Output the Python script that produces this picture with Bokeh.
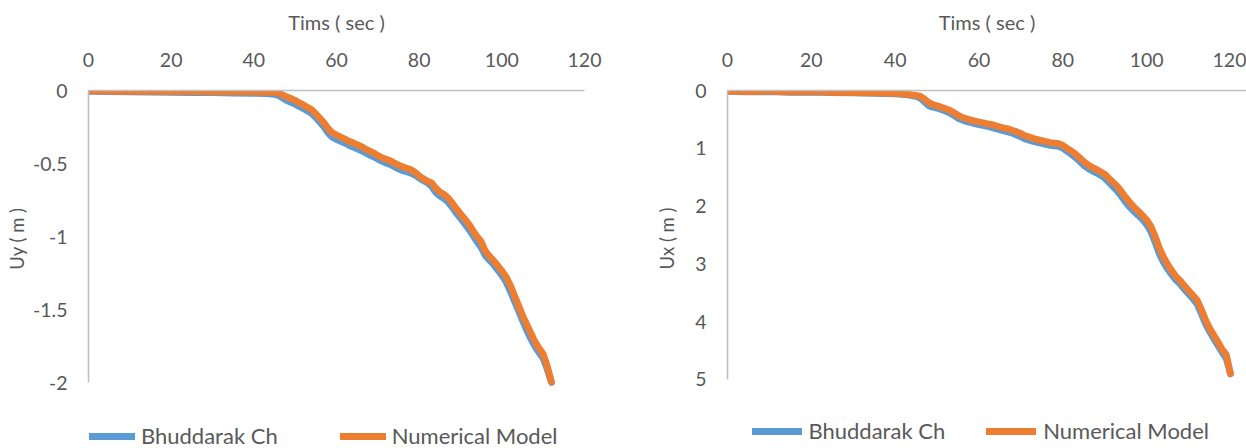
from bokeh.plotting import figure
from bokeh.models import Range1d, FixedTicker, Legend, LegendItem, Title
from bokeh.layouts import row
from bokeh.embed import file_html
from bokeh.resources import INLINE

# ---------------- data ----------------
x_ticks = [0, 20, 40, 60, 80, 100, 120]
uy_ticks = [0, -0.5, -1, -1.5, -2]
uy_tick_labels = ["0", "-0.5", "-1", "-1.5", "-2"]
ux_ticks = [0, 1, 2, 3, 4, 5]
ux_tick_labels = ["0", "1", "2", "3", "4", "5"]
series_names = ["Bhuddarak Ch", "Numerical Model"]

time_uy = [0, 5, 10, 15, 20, 25, 30, 35, 40, 43, 45, 46, 47, 48, 49, 50, 51, 52, 53, 54,
           55, 56, 57, 58, 59, 60, 61, 62, 63, 64, 65, 66, 67, 68, 69, 70, 71, 72, 73, 74,
           75, 76, 77, 78, 79, 80, 81, 82, 83, 84, 85, 86, 87, 88, 89, 90, 91, 92, 93, 94,
           95, 96, 97, 98, 99, 100, 101, 102, 103, 104, 105, 106, 107, 108, 109, 110, 111, 112]
uy_bhuddarak = [-0.006, -0.008, -0.009, -0.011, -0.012, -0.014, -0.015, -0.017, -0.019, -0.021,
                -0.026, -0.035, -0.052, -0.070, -0.082, -0.094, -0.110, -0.124, -0.140, -0.158,
                -0.185, -0.218, -0.250, -0.292, -0.320, -0.335, -0.348, -0.360, -0.375, -0.387,
                -0.400, -0.412, -0.427, -0.442, -0.454, -0.470, -0.484, -0.497, -0.507, -0.522,
                -0.537, -0.549, -0.557, -0.566, -0.579, -0.600, -0.616, -0.632, -0.657, -0.698,
                -0.722, -0.740, -0.765, -0.800, -0.840, -0.875, -0.912, -0.950, -0.992, -1.035,
                -1.075, -1.130, -1.162, -1.192, -1.228, -1.265, -1.310, -1.370, -1.440, -1.505,
                -1.575, -1.640, -1.700, -1.752, -1.795, -1.835, -1.910, -2.000]
uy_numerical = [-0.003, -0.004, -0.005, -0.006, -0.007, -0.008, -0.009, -0.010, -0.011, -0.012,
                -0.013, -0.018, -0.030, -0.045, -0.055, -0.068, -0.085, -0.098, -0.115, -0.132,
                -0.160, -0.190, -0.222, -0.262, -0.290, -0.305, -0.318, -0.332, -0.348, -0.358,
                -0.370, -0.384, -0.400, -0.415, -0.427, -0.446, -0.459, -0.471, -0.481, -0.496,
                -0.511, -0.523, -0.532, -0.542, -0.560, -0.585, -0.605, -0.620, -0.632, -0.668,
                -0.695, -0.712, -0.735, -0.770, -0.810, -0.845, -0.880, -0.915, -0.960, -1.000,
                -1.035, -1.100, -1.135, -1.165, -1.200, -1.235, -1.275, -1.330, -1.400, -1.470,
                -1.540, -1.600, -1.660, -1.720, -1.765, -1.805, -1.890, -1.995]

time_ux = [0, 5, 10, 15, 20, 25, 30, 35, 40, 43, 45, 46, 47, 48, 49, 50, 51, 52, 53, 54,
           55, 56, 57, 58, 59, 60, 61, 62, 63, 64, 65, 66, 67, 68, 69, 70, 71, 72, 73, 74,
           75, 76, 77, 78, 79, 80, 81, 82, 83, 84, 85, 86, 87, 88, 89, 90, 91, 92, 93, 94,
           95, 96, 97, 98, 99, 100, 101, 102, 103, 104, 105, 106, 107, 108, 109, 110, 111, 112,
           113, 114, 115, 116, 117, 118, 119, 120]
ux_bhuddarak = [0.015, 0.025, 0.020, 0.030, 0.028, 0.035, 0.040, 0.048, 0.060, 0.075,
                0.100, 0.130, 0.200, 0.265, 0.290, 0.305, 0.330, 0.355, 0.385, 0.430,
                0.480, 0.510, 0.535, 0.555, 0.575, 0.590, 0.605, 0.620, 0.640, 0.660,
                0.680, 0.700, 0.718, 0.742, 0.770, 0.800, 0.838, 0.860, 0.882, 0.900,
                0.918, 0.935, 0.950, 0.958, 0.965, 0.995, 1.050, 1.100, 1.160, 1.225,
                1.295, 1.345, 1.390, 1.425, 1.465, 1.515, 1.590, 1.665, 1.740, 1.830,
                1.935, 2.020, 2.095, 2.160, 2.230, 2.320, 2.440, 2.620, 2.820, 2.970,
                3.090, 3.190, 3.280, 3.350, 3.440, 3.520, 3.600, 3.690, 3.850, 4.030,
                4.170, 4.290, 4.410, 4.530, 4.640, 4.900]
ux_numerical = [0.010, 0.020, 0.015, 0.025, 0.020, 0.030, 0.035, 0.040, 0.050, 0.065,
                0.085, 0.100, 0.150, 0.210, 0.245, 0.265, 0.290, 0.315, 0.340, 0.380,
                0.430, 0.465, 0.490, 0.510, 0.530, 0.545, 0.560, 0.575, 0.590, 0.610,
                0.630, 0.650, 0.665, 0.690, 0.715, 0.745, 0.785, 0.805, 0.830, 0.850,
                0.868, 0.885, 0.900, 0.910, 0.920, 0.950, 1.000, 1.045, 1.100, 1.160,
                1.230, 1.285, 1.330, 1.365, 1.405, 1.450, 1.520, 1.590, 1.660, 1.750,
                1.850, 1.940, 2.020, 2.090, 2.160, 2.240, 2.350, 2.520, 2.720, 2.880,
                3.010, 3.120, 3.220, 3.290, 3.380, 3.460, 3.540, 3.625, 3.780, 3.960,
                4.110, 4.230, 4.350, 4.480, 4.570, 4.900]

# ---------------- style ----------------
BLUE = "#5B9BD5"
ORANGE = "#ED7D31"
TEXT = "#595959"
AXIS = "#BFBFBF"
FONT = "Lato"


def make_chart(frame_w, x_end, y_start, y_end, y_bounds, yticks, ylabels, ylabel,
               t, s1, s2, border_left, border_right, ylabel_offset, ylabel_standoff,
               legend_loc, glyph_w, label_standoff, spacing):
    p = figure(frame_width=frame_w, frame_height=358, x_range=Range1d(0, x_end),
               y_range=Range1d(y_start, y_end), x_axis_location="above",
               output_backend="svg", toolbar_location=None,
               min_border_left=border_left, min_border_right=border_right,
               min_border_top=90, min_border_bottom=0)
    p.outline_line_color = None
    p.grid.visible = False
    p.background_fill_color = "white"
    p.border_fill_color = "white"

    xa = p.xaxis[0]
    xa.ticker = FixedTicker(ticks=x_ticks)
    xa.axis_label = "Tims ( sec )"
    xa.axis_label_standoff = 16
    xa.major_label_standoff = 24
    ya = p.yaxis[0]
    ya.ticker = FixedTicker(ticks=yticks)
    ya.bounds = y_bounds
    ya.major_label_overrides = {v: l for v, l in zip(yticks, ylabels)}
    ya.major_label_standoff = 21
    for ax in (xa, ya):
        ax.axis_line_color = AXIS
        ax.axis_line_width = 1.6
        ax.major_tick_line_color = None
        ax.minor_tick_line_color = None
        ax.major_tick_out = 0
        ax.major_tick_in = 0
        ax.minor_tick_out = 0
        ax.minor_tick_in = 0
        ax.major_label_text_font = FONT
        ax.major_label_text_font_size = "19.5px"
        ax.major_label_text_color = TEXT
        ax.axis_label_text_font = FONT
        ax.axis_label_text_font_size = "20px"
        ax.axis_label_text_font_style = "normal"
        ax.axis_label_text_color = TEXT

    # y-axis title placed along the drawn part of the axis (top end given by offset)
    ytitle = Title(text=ylabel, align="right", offset=ylabel_offset, standoff=ylabel_standoff,
                   text_font=FONT, text_font_size="18.5px", text_font_style="normal",
                   text_color=TEXT)
    p.add_layout(ytitle, "left")

    r1 = p.line(t, s1, line_color=BLUE, line_width=6.8, line_join="round", line_cap="round")
    r2 = p.line(t, s2, line_color=ORANGE, line_width=6.8, line_join="round", line_cap="round")

    legend = Legend(items=[LegendItem(label=series_names[0], renderers=[r1]),
                           LegendItem(label=series_names[1], renderers=[r2])],
                    orientation="horizontal", location=legend_loc,
                    padding=0, margin=0, spacing=spacing, glyph_width=glyph_w,
                    glyph_height=18, label_height=18, label_standoff=label_standoff,
                    label_text_font=FONT, label_text_font_size="22px",
                    label_text_color=TEXT, border_line_color=None,
                    background_fill_alpha=0)
    p.add_layout(legend)
    return p


# left frame x 88..584 (0..120), y 0..-2 at 90..382, frame runs to the page bottom
left = make_chart(496, 120, -2.452, 0, (-2, 0), uy_ticks, uy_tick_labels, "Uy ( m )",
                  time_uy, uy_bhuddarak, uy_numerical, 88, 36, 117, 6,
                  (1, -1), 46, 6, 62)
# right frame x 727..1246 (4.1917 px/unit), y 0..5 at 90..379
right = make_chart(519, 123.82, 6.194, 0, (0, 5), ux_ticks, ux_tick_labels, "Ux ( m )",
                   time_ux, ux_bhuddarak, ux_numerical, 107, 0, 117, 30,
                   (24.5, 4), 50, 7, 41)

layout = row(left, right)
open("out.html", "w").write(file_html(layout, INLINE))
